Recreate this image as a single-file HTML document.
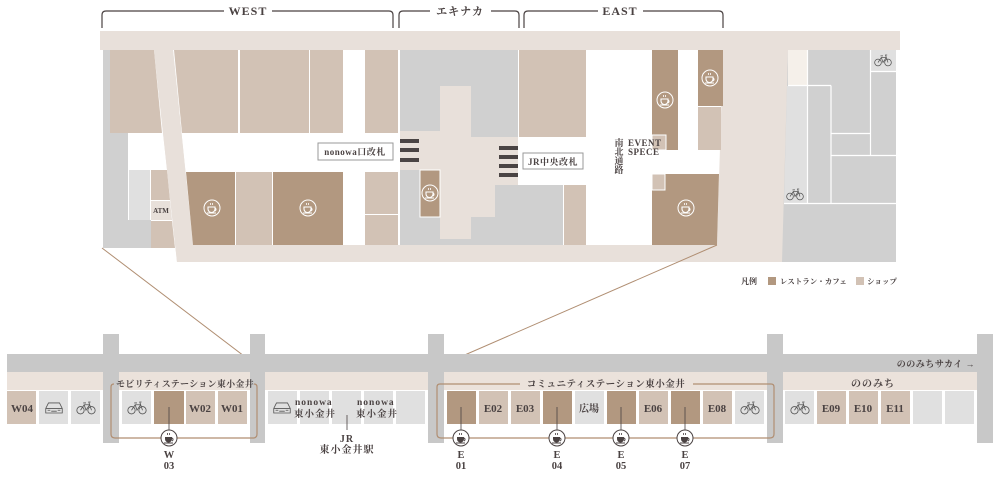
<!DOCTYPE html>
<html><head><meta charset="utf-8"><style>
html,body{margin:0;padding:0;background:#fff;width:1000px;height:480px;overflow:hidden}
svg{display:block}
text{font-family:"Liberation Serif","Noto Serif CJK SC","Noto Sans CJK JP",serif;fill:#4a4242;font-weight:bold}
</style></head><body>
<svg width="1000" height="480" viewBox="0 0 1000 480" xmlns="http://www.w3.org/2000/svg">
<defs>
<symbol id="cafe" viewBox="-10 -10 20 20" overflow="visible">
<circle r="8" fill="none" stroke="#fff" stroke-width="1"/>
<path d="M-4,-1 h7 v2 a3.5,3.5 0 0 1 -7,0 z" fill="none" stroke="#fff" stroke-width="1.1"/>
<path d="M3,0 a1.6,1.6 0 0 1 0,3" fill="none" stroke="#fff" stroke-width="1"/>
<path d="M-5,5 h9" stroke="#fff" stroke-width="1"/>
<path d="M-1.5,-5 v2 M0.5,-5 v2" stroke="#fff" stroke-width="0.8"/>
</symbol>
<symbol id="cafeb" viewBox="-10 -10 20 20" overflow="visible">
<circle r="8" fill="#fff" stroke="#4a4242" stroke-width="1"/>
<path d="M-4,-1 h7 v2 a3.5,3.5 0 0 1 -7,0 z" fill="#4a4242"/>
<path d="M3,0 a1.6,1.6 0 0 1 0,3" fill="none" stroke="#4a4242" stroke-width="1"/>
<path d="M-5,5 h9" stroke="#4a4242" stroke-width="1"/>
<path d="M-1.5,-5 v2 M0.5,-5 v2" stroke="#4a4242" stroke-width="0.8"/>
</symbol>
<symbol id="bike" viewBox="-12 -8 24 16" overflow="visible">
<g fill="none" stroke="#555" stroke-width="0.9">
<circle cx="-6" cy="3" r="4"/><circle cx="6" cy="3" r="4"/>
<path d="M-6,3 L-2,-3 H4 L6,3 M-2,-3 L0,3 L4,-3 M-3,-5 h3 M4,-3 L3,-6 h2"/>
</g>
</symbol>
<symbol id="car" viewBox="-12 -8 24 16" overflow="visible">
<g fill="none" stroke="#555" stroke-width="0.9">
<path d="M-9,1 L-6,-5 H6 L9,1 V6 H-9 Z M-9,1 H9"/>
<path d="M-7,3 h3 M4,3 h3 M-3,4 h6" />
</g>
</symbol>
</defs>

<!-- headers -->
<g fill="none" stroke="#4a4242" stroke-width="1.2">
<path d="M102,28 V15 Q102,11 106,11 H224 M272,11 H389 Q393,11 393,15 V28"/>
<path d="M399,28 V15 Q399,11 403,11 H430 M491,11 H515 Q519,11 519,15 V28"/>
<path d="M524,28 V15 Q524,11 528,11 H598 M643,11 H719 Q723,11 723,15 V28"/>
</g>
<text x="248" y="15" font-size="12" text-anchor="middle" letter-spacing="1">WEST</text>
<text x="460" y="15" font-size="11" text-anchor="middle" letter-spacing="1">エキナカ</text>
<text x="620" y="15" font-size="12" text-anchor="middle" letter-spacing="1">EAST</text>

<!-- top map base -->
<polygon points="100,31 900,31 900,50 788,50 783,262 177,262 154,50 100,50" fill="#e8e0da"/>
<polygon points="173,50 723,50 717,245 193,245" fill="#fff"/>

<!-- left block -->
<rect x="102" y="50" width="52" height="198" fill="#fff"/>
<rect x="103" y="50" width="7" height="198" fill="#d0d0d0"/>
<rect x="103" y="133" width="25" height="115" fill="#d0d0d0"/>
<rect x="103" y="220" width="48" height="28" fill="#d0d0d0"/>
<polygon points="110,50 154,50 162,133 110,133" fill="#d2c2b5"/>
<rect x="129" y="170" width="21" height="50" fill="#e0e0e0"/>
<polygon points="151,170 167,170 170,200 151,200" fill="#d2c2b5"/>
<polygon points="151,201 170,201 172,220 151,220" fill="#e8e0da"/>
<polygon points="151,221 172,221 175,248 151,248" fill="#d2c2b5"/>
<text x="161" y="213" font-size="7" text-anchor="middle">ATM</text>
<polygon points="154,50 173,50 193,245 195,262 177,262" fill="#e8e0da"/>

<!-- west shops -->
<polygon points="174,50 238,50 238,133 182,133" fill="#d2c2b5"/>
<rect x="240" y="50" width="69" height="83" fill="#d2c2b5"/>
<rect x="310" y="50" width="33" height="83" fill="#d2c2b5"/>
<rect x="365" y="50" width="33" height="83" fill="#d2c2b5"/>
<polygon points="186,172 235,172 235,245 193,245" fill="#b29880"/>
<rect x="236" y="172" width="36" height="73" fill="#d2c2b5"/>
<rect x="273" y="172" width="70" height="73" fill="#b29880"/>
<rect x="365" y="172" width="33" height="42" fill="#d2c2b5"/>
<rect x="365" y="215" width="33" height="30" fill="#d2c2b5"/>
<use href="#cafe" x="202" y="198" width="20" height="20"/>
<use href="#cafe" x="298" y="198" width="20" height="20"/>
<rect x="318" y="143" width="75" height="17" fill="#fff" stroke="#999" stroke-width="1"/>
<text x="355" y="155" font-size="9" text-anchor="middle" letter-spacing="0.5">nonowa口改札</text>

<!-- station -->
<rect x="400" y="50" width="118" height="195" fill="#d0d0d0"/>
<polygon points="400,131 440,131 440,86 471,86 471,137 518,137 518,185 495,185 495,217 471,217 471,239 440,239 440,170 400,170" fill="#e8e0da"/>
<rect x="420" y="170" width="20" height="47" fill="#b29880" stroke="#fff" stroke-width="1"/>
<use href="#cafe" x="420" y="183" width="20" height="20"/>
<g fill="#4a4444">
<rect x="400" y="139" width="19" height="4"/><rect x="400" y="148" width="19" height="4"/><rect x="400" y="158" width="19" height="4"/>
<rect x="499" y="146" width="19" height="4"/><rect x="499" y="155" width="19" height="4"/><rect x="499" y="164" width="19" height="4"/><rect x="499" y="173" width="19" height="4"/>
</g>

<!-- east -->
<rect x="519" y="50" width="67" height="87" fill="#d2c2b5"/>
<rect x="518" y="185" width="45" height="60" fill="#d0d0d0"/>
<rect x="564" y="185" width="22" height="60" fill="#d2c2b5"/>
<rect x="523" y="153" width="60" height="16" fill="#fff" stroke="#999" stroke-width="1"/>
<text x="553" y="165" font-size="9" text-anchor="middle" letter-spacing="0.5">JR中央改札</text>
<rect x="652" y="50" width="26" height="100" fill="#b29880"/>
<rect x="652" y="135" width="14" height="15" fill="#d2c2b5" stroke="#fff" stroke-width="1"/>
<use href="#cafe" x="655" y="90" width="20" height="20"/>
<rect x="698" y="50" width="25" height="56" fill="#b29880"/>
<rect x="698" y="107" width="23" height="43" fill="#d2c2b5"/>
<use href="#cafe" x="700" y="68" width="20" height="20"/>
<polygon points="652,174 719,174 717,245 652,245" fill="#b29880"/>
<rect x="652" y="174" width="13" height="16" fill="#d2c2b5" stroke="#fff" stroke-width="1"/>
<use href="#cafe" x="676" y="198" width="20" height="20"/>
<text font-size="9" text-anchor="middle"><tspan x="619" y="146">南</tspan><tspan x="619" y="155">北</tspan><tspan x="619" y="164">通</tspan><tspan x="619" y="173">路</tspan></text>
<text font-size="9" letter-spacing="0.5"><tspan x="628" y="146">EVENT</tspan><tspan x="628" y="155">SPECE</tspan></text>

<!-- right building -->
<polygon points="788,50 896,50 896,262 782,262" fill="#d0d0d0"/>
<rect x="788" y="50" width="19" height="35" fill="#f5f0ea"/>
<polygon points="787,86 807,86 807,203 784,203" fill="#e0e0e0"/>
<rect x="871" y="50" width="25" height="21" fill="#e0e0e0"/>
<g stroke="#fff" stroke-width="1.2" fill="none">
<path d="M807.5,50 V203 M807,85.5 H831 M831,85.5 V203 M831,133.5 H870 M870.5,50 V155 M831,155.5 H896 M870,71.5 H896 M784,203.5 H896 M788,85.5 H807"/>
</g>
<use href="#bike" x="873" y="53" width="20" height="14"/>
<use href="#bike" x="785" y="187" width="20" height="14"/>

<!-- legend -->
<text x="741" y="284" font-size="8">凡例</text>
<rect x="768" y="277" width="8" height="8" fill="#b29880"/>
<text x="780" y="284" font-size="7.5">レストラン・カフェ</text>
<rect x="856" y="277" width="8" height="8" fill="#d2c2b5"/>
<text x="867" y="284" font-size="7.5">ショップ</text>

<!-- connectors -->
<path d="M102,248 L265,372 M717,245 L428,371" stroke="#b08e72" stroke-width="1"/>

<!-- bottom street -->
<rect x="7" y="354" width="970" height="18" fill="#c8c8c8"/>
<rect x="7" y="372" width="970" height="18" fill="#ebe2db"/>
<g fill="#c8c8c8">
<rect x="103" y="334" width="16" height="109"/>
<rect x="250" y="334" width="15" height="109"/>
<rect x="428" y="334" width="16" height="109"/>
<rect x="767" y="334" width="16" height="109"/>
<rect x="977" y="334" width="16" height="109"/>
</g>
<text x="975" y="367" font-size="9" text-anchor="end" letter-spacing="0.5">ののみちサカイ →</text>
<text x="873" y="387" font-size="10" text-anchor="middle" letter-spacing="1">ののみち</text>

<!-- cells -->
<g>
<rect x="7" y="391" width="29" height="33" fill="#d2c2b5"/>
<rect x="39" y="391" width="29" height="33" fill="#e0e0e0"/>
<rect x="71" y="391" width="29" height="33" fill="#e0e0e0"/>
<rect x="122" y="391" width="29" height="33" fill="#e0e0e0"/>
<rect x="154" y="391" width="30" height="33" fill="#b29880"/>
<rect x="186" y="391" width="29" height="33" fill="#d2c2b5"/>
<rect x="218" y="391" width="29" height="33" fill="#d2c2b5"/>
<rect x="268" y="391" width="29" height="33" fill="#e0e0e0"/>
<rect x="300" y="391" width="29" height="33" fill="#e0e0e0"/>
<rect x="332" y="391" width="29" height="33" fill="#e0e0e0"/>
<rect x="364" y="391" width="29" height="33" fill="#e0e0e0"/>
<rect x="396" y="391" width="29" height="33" fill="#e0e0e0"/>
<rect x="447" y="391" width="29" height="33" fill="#b29880"/>
<rect x="479" y="391" width="29" height="33" fill="#d2c2b5"/>
<rect x="511" y="391" width="29" height="33" fill="#d2c2b5"/>
<rect x="543" y="391" width="29" height="33" fill="#b29880"/>
<rect x="575" y="391" width="29" height="33" fill="#e0e0e0"/>
<rect x="607" y="391" width="29" height="33" fill="#b29880"/>
<rect x="639" y="391" width="29" height="33" fill="#d2c2b5"/>
<rect x="671" y="391" width="29" height="33" fill="#b29880"/>
<rect x="703" y="391" width="29" height="33" fill="#d2c2b5"/>
<rect x="735" y="391" width="29" height="33" fill="#e0e0e0"/>
<rect x="785" y="391" width="29" height="33" fill="#e0e0e0"/>
<rect x="817" y="391" width="29" height="33" fill="#d2c2b5"/>
<rect x="849" y="391" width="29" height="33" fill="#d2c2b5"/>
<rect x="881" y="391" width="29" height="33" fill="#d2c2b5"/>
<rect x="913" y="391" width="29" height="33" fill="#e0e0e0"/>
<rect x="945" y="391" width="29" height="33" fill="#e0e0e0"/>
</g>
<use href="#car" x="43" y="400" width="22" height="15"/>
<use href="#bike" x="75" y="400" width="22" height="15"/>
<use href="#bike" x="126" y="400" width="22" height="15"/>
<use href="#car" x="271" y="400" width="22" height="15"/>
<use href="#bike" x="739" y="400" width="22" height="15"/>
<use href="#bike" x="789" y="400" width="22" height="15"/>
<g font-size="11" text-anchor="middle">
<text x="22" y="412">W04</text>
<text x="200" y="412">W02</text>
<text x="232" y="412">W01</text>
<text x="493" y="412">E02</text>
<text x="525" y="412">E03</text>
<text x="589" y="412" font-size="10">広場</text>
<text x="653" y="412">E06</text>
<text x="717" y="412">E08</text>
<text x="831" y="412">E09</text>
<text x="863" y="412">E10</text>
<text x="895" y="412">E11</text>
</g>
<g font-size="9.5" letter-spacing="1">
<text x="295" y="405">nonowa</text><text x="294" y="417">東小金井</text>
<text x="357" y="405">nonowa</text><text x="356" y="417">東小金井</text>
</g>
<path d="M347,415 V430" stroke="#4a4242" stroke-width="0.8"/>
<text x="347" y="442" font-size="10" text-anchor="middle" letter-spacing="1">JR</text>
<text x="347" y="453" font-size="10" text-anchor="middle" letter-spacing="1">東小金井駅</text>

<!-- brackets -->
<g fill="none" stroke="#b08e72" stroke-width="1.2">
<path d="M114,384 Q111,384 111,387 V434 Q111,438 115,438 H253 Q257,438 257,434 V387 Q257,384 254,384"/>
<path d="M440,384 Q437,384 437,387 V434 Q437,438 441,438 H770 Q774,438 774,434 V387 Q774,384 771,384 H693 M520,384 H440"/>
</g>
<text x="185" y="387" font-size="9" text-anchor="middle" letter-spacing="0.3">モビリティステーション東小金井</text>
<text x="606" y="387" font-size="9.5" text-anchor="middle" letter-spacing="0.5">コミュニティステーション東小金井</text>

<!-- cafe markers -->
<g stroke="#4a4242" stroke-width="0.8">
<path d="M169,407 V430 M461,407 V430 M557,407 V430 M621,407 V430 M685,407 V430"/>
</g>
<use href="#cafeb" x="159" y="428" width="20" height="20"/>
<use href="#cafeb" x="451" y="428" width="20" height="20"/>
<use href="#cafeb" x="547" y="428" width="20" height="20"/>
<use href="#cafeb" x="611" y="428" width="20" height="20"/>
<use href="#cafeb" x="675" y="428" width="20" height="20"/>
<g font-size="10.5" text-anchor="middle">
<text x="169" y="458">W</text><text x="169" y="469">03</text>
<text x="461" y="458">E</text><text x="461" y="469">01</text>
<text x="557" y="458">E</text><text x="557" y="469">04</text>
<text x="621" y="458">E</text><text x="621" y="469">05</text>
<text x="685" y="458">E</text><text x="685" y="469">07</text>
</g>
</svg>
</body></html>
